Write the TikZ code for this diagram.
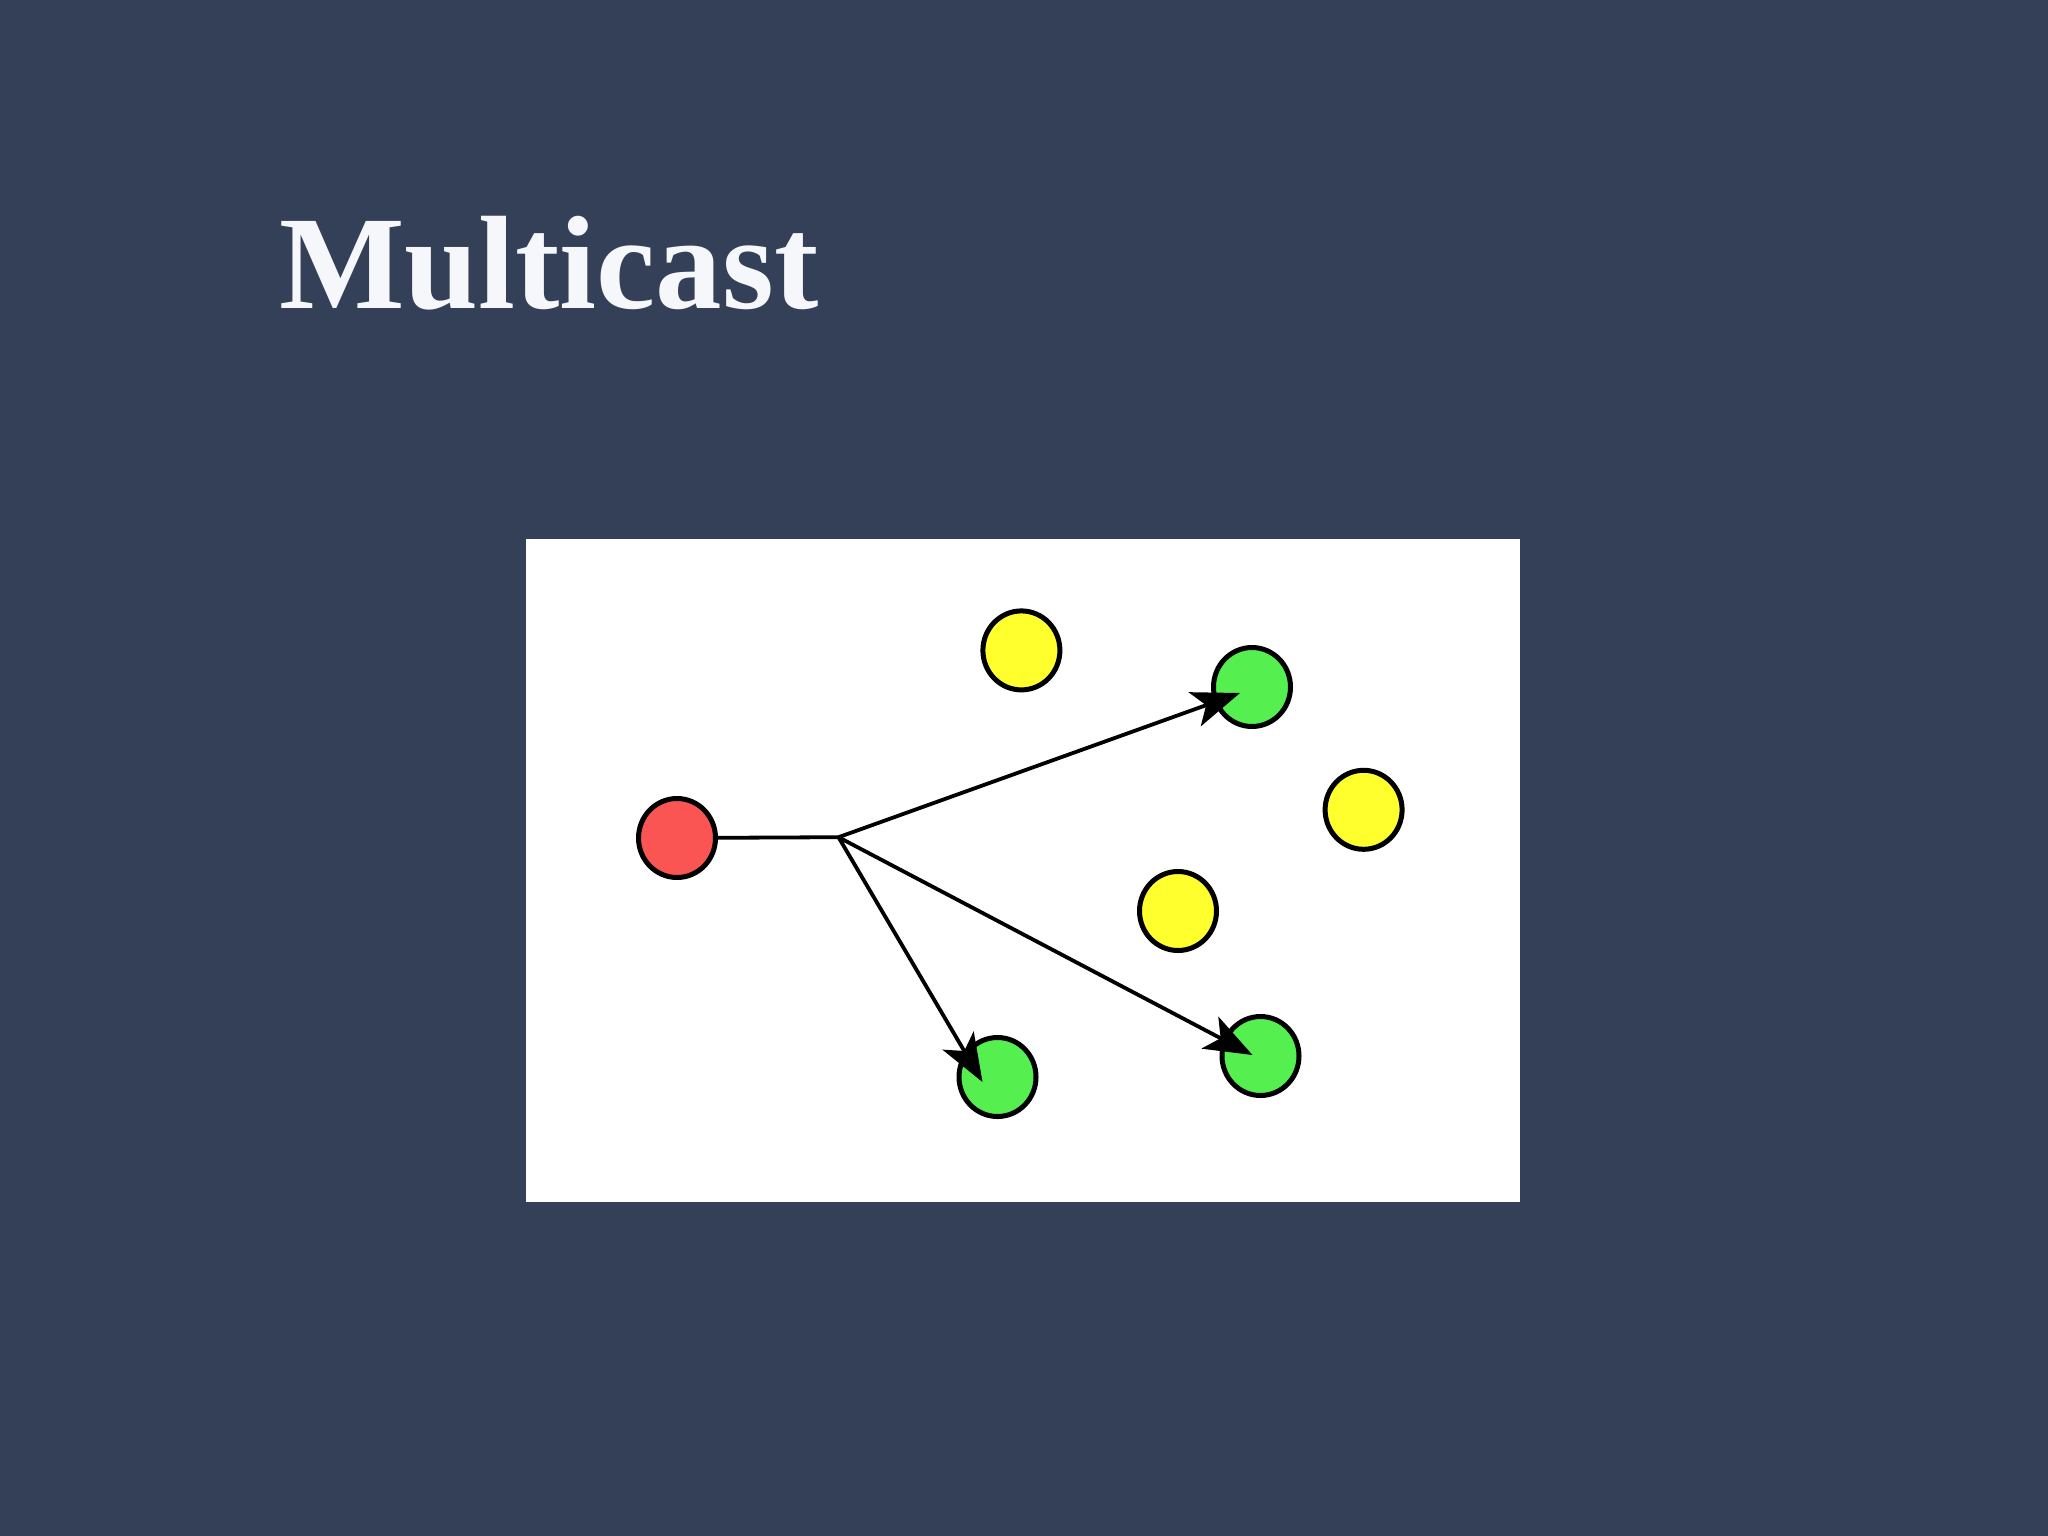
\documentclass[tikz,border=0pt]{standalone}
\usepackage{fontspec}
\setmainfont{Liberation Serif}
\usetikzlibrary{arrows.meta,calc,shapes.geometric}
\definecolor{bg}{RGB}{51,64,87}
\definecolor{titlec}{RGB}{245,247,250}
\definecolor{redc}{RGB}{250,85,82}
\definecolor{yelc}{RGB}{255,255,45}
\definecolor{grnc}{RGB}{85,240,80}
\tikzset{
  dot/.style={ellipse, draw=black, line width=5pt, minimum width=77pt, minimum height=79pt, inner sep=0pt},
  link/.style={draw=black, line width=3.8pt},
  arr/.style={link, -{Stealth[length=48pt,width=36pt,inset=12pt]}}
}
\begin{document}
\begin{tikzpicture}[x=1pt,y=-1pt]
\fill[bg] (0,0) rectangle (2048,1536);
\useasboundingbox (0,0) rectangle (2048,1536);
\node[anchor=base west, inner sep=0pt, text=titlec, font=\fontsize{133}{140}\selectfont\bfseries] (title) at (279,308) {Multicast};
\fill[white] (526,539) rectangle (1520,1202);
\node[dot, fill=redc] (red) at (677,838) {};
\node[dot, fill=yelc] (y1) at (1021.4,650.4) {};
\node[dot, fill=grnc] (g1) at (1252,687) {};
\node[dot, fill=yelc] (y2) at (1363.6,809.8) {};
\node[dot, fill=yelc] (y3) at (1178,911) {};
\node[dot, fill=grnc] (g2) at (997.5,1077) {};
\node[dot, fill=grnc] (g3) at (1260.5,1056) {};
\coordinate (b) at (838.5,837.2);
\coordinate (t1) at ($(g1.center)+(-12,6)$);
\coordinate (t2) at ($(g2.center)+(-15,5)$);
\coordinate (t3) at ($(g3.center)+(-8,-1)$);
\draw[link] (red) -- (b);
\draw[arr] (b) -- (t1);
\draw[arr] (b) -- (t2);
\draw[arr] (b) -- (t3);
\end{tikzpicture}
\end{document}
